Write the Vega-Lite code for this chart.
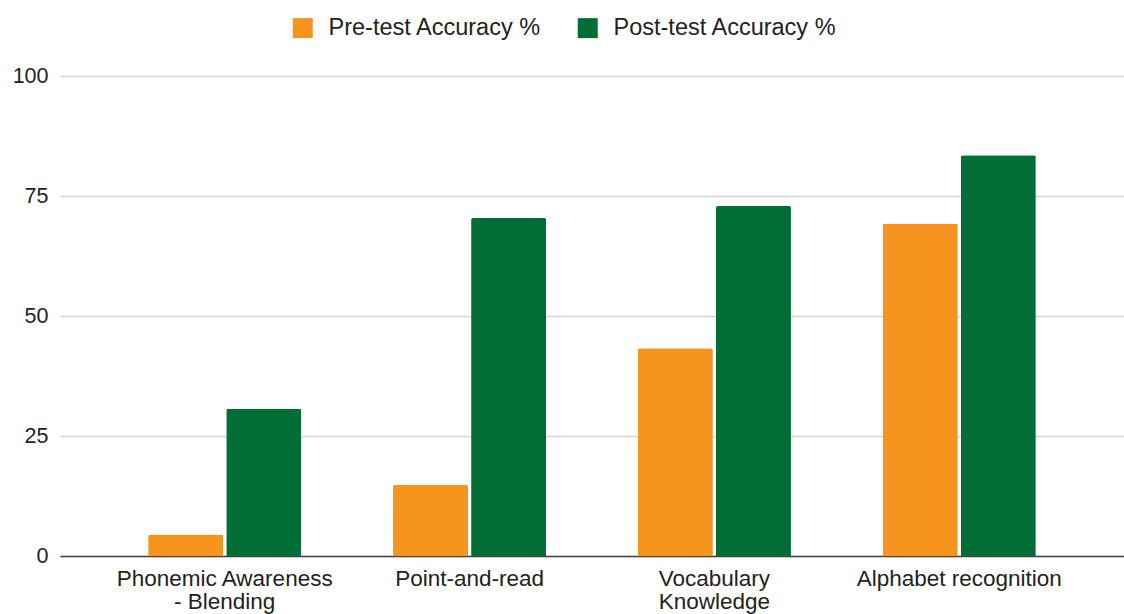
{
  "$schema": "https://vega.github.io/schema/vega-lite/v6.json",
  "autosize": "none",
  "width": 1064,
  "height": 480,
  "padding": {"left": 60, "top": 76, "right": 0, "bottom": 58},
  "background": "white",
  "config": {
    "font": "Liberation Sans",
    "view": {"stroke": null}
  },
  "data": {
    "values": [
      {"skill": "Phonemic Awareness|- Blending", "series": "Pre-test Accuracy %", "value": 4.5},
      {"skill": "Phonemic Awareness|- Blending", "series": "Post-test Accuracy %", "value": 30.7},
      {"skill": "Point-and-read", "series": "Pre-test Accuracy %", "value": 14.8},
      {"skill": "Point-and-read", "series": "Post-test Accuracy %", "value": 70.4},
      {"skill": "Vocabulary|Knowledge", "series": "Pre-test Accuracy %", "value": 43.3},
      {"skill": "Vocabulary|Knowledge", "series": "Post-test Accuracy %", "value": 72.9},
      {"skill": "Alphabet recognition", "series": "Pre-test Accuracy %", "value": 69.2},
      {"skill": "Alphabet recognition", "series": "Post-test Accuracy %", "value": 83.5}
    ]
  },
  "mark": {"type": "bar", "cornerRadiusTopLeft": 2, "cornerRadiusTopRight": 2},
  "encoding": {
    "x": {
      "field": "skill",
      "type": "nominal",
      "sort": null,
      "scale": {"paddingInner": 0.375, "paddingOuter": 0.36},
      "axis": {
        "title": null,
        "labelAngle": 0,
        "labelExpr": "split(datum.label, '|')",
        "labelFontSize": 22.5,
        "labelColor": "#222222",
        "labelPadding": 11,
        "labelLineHeight": 23,
        "ticks": false,
        "domainColor": "#444444",
        "domainWidth": 1.5,
        "labelLimit": 400
      }
    },
    "xOffset": {
      "field": "series",
      "type": "nominal",
      "sort": ["Pre-test Accuracy %", "Post-test Accuracy %"],
      "scale": {"paddingInner": 0.04}
    },
    "y": {
      "field": "value",
      "type": "quantitative",
      "scale": {"domain": [0, 100]},
      "axis": {
        "title": null,
        "values": [0, 25, 50, 75, 100],
        "labelFontSize": 21.5,
        "labelColor": "#222222",
        "labelPadding": 12,
        "ticks": false,
        "domain": false,
        "gridColor": "#d6d6d6",
        "gridWidth": 1.5
      }
    },
    "color": {
      "field": "series",
      "type": "nominal",
      "sort": ["Pre-test Accuracy %", "Post-test Accuracy %"],
      "scale": {"domain": ["Pre-test Accuracy %", "Post-test Accuracy %"], "range": ["#F7941D", "#006E35"]},
      "legend": {
        "title": null,
        "orient": "none",
        "direction": "horizontal",
        "legendX": 231,
        "legendY": -60,
        "symbolType": "square",
        "symbolSize": 400,
        "symbolStrokeWidth": 0,
        "symbolOpacity": 1,
        "labelFontSize": 23.5,
        "labelColor": "#222222",
        "labelOffset": 14,
        "columnPadding": 34,
        "labelLimit": 400
      }
    }
  }
}
